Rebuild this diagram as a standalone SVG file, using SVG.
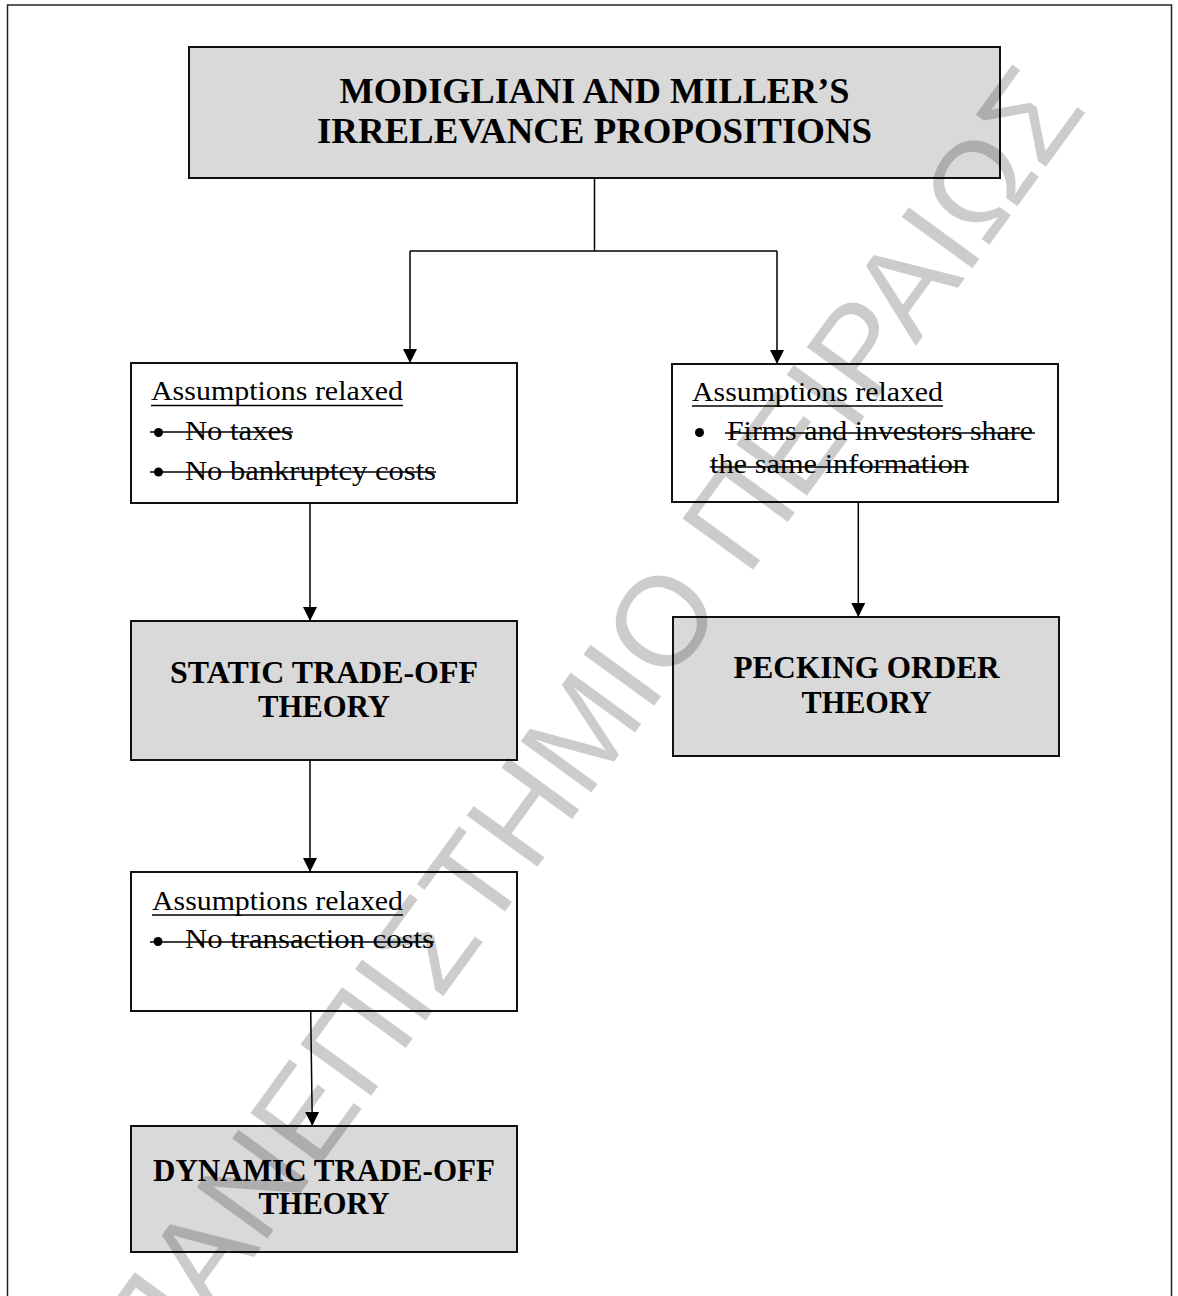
<svg xmlns="http://www.w3.org/2000/svg" width="1178" height="1296" viewBox="0 0 1178 1296">
<defs>
<style>
.box{stroke:#111;stroke-width:2;}
.theory{fill:#d9d9d9;}
.plain{fill:#fff;}
.title{font-family:"Liberation Serif","Times New Roman",serif;font-weight:bold;fill:#000;}
.body{font-family:"Liberation Serif","Times New Roman",serif;font-size:28px;fill:#000;}
.rule{stroke:#000;stroke-width:1.5;}
.conn{fill:none;stroke:#000;stroke-width:1.5;}
.wm{font-family:"Liberation Sans",Arial,sans-serif;font-size:127px;fill:#000;fill-opacity:0.2;}
</style>
<marker id="arrow" markerUnits="userSpaceOnUse" markerWidth="14" markerHeight="14" viewBox="0 0 14 14" refX="14" refY="7" orient="auto">
<path d="M0,0 L14,7 L0,14 z" fill="#000"/>
</marker>
</defs>
<rect width="1178" height="1296" fill="#fff"/>
<path d="M7.5,1300 V5 H1171.5 V1300" fill="none" stroke="#222" stroke-width="1.5"/>

<g id="mm">
<rect class="box theory" x="189" y="47" width="811" height="131"/>
<text class="title" font-size="35" x="594.5" y="103.3" text-anchor="middle" textLength="510" lengthAdjust="spacingAndGlyphs">MODIGLIANI AND MILLER’S</text>
<text class="title" font-size="35" x="594.5" y="143.3" text-anchor="middle" textLength="555" lengthAdjust="spacingAndGlyphs">IRRELEVANCE PROPOSITIONS</text>
</g>

<g id="assump1">
<rect class="box plain" x="131" y="363" width="386" height="140"/>
<text class="body" x="151" y="400" textLength="252" lengthAdjust="spacingAndGlyphs">Assumptions relaxed</text>
<line class="rule" x1="151" y1="405.5" x2="403" y2="405.5"/>
<circle cx="158.5" cy="432.5" r="4.5" fill="#000"/>
<text class="body" x="185" y="440" textLength="108" lengthAdjust="spacingAndGlyphs">No taxes</text>
<line class="rule" x1="150" y1="432" x2="293" y2="432"/>
<circle cx="158.5" cy="472" r="4.5" fill="#000"/>
<text class="body" x="185" y="480" textLength="251" lengthAdjust="spacingAndGlyphs">No bankruptcy costs</text>
<line class="rule" x1="150" y1="472" x2="436" y2="472"/>
</g>

<g id="assump2">
<rect class="box plain" x="672" y="364" width="386" height="138"/>
<text class="body" x="692" y="400.7" textLength="251" lengthAdjust="spacingAndGlyphs">Assumptions relaxed</text>
<line class="rule" x1="692" y1="406" x2="943" y2="406"/>
<circle cx="699.5" cy="432.5" r="4.5" fill="#000"/>
<text class="body" x="727" y="440" textLength="306" lengthAdjust="spacingAndGlyphs">Firms and investors share</text>
<line class="rule" x1="725" y1="433" x2="1035" y2="433"/>
<text class="body" x="710" y="473" textLength="258" lengthAdjust="spacingAndGlyphs">the same information</text>
<line class="rule" x1="710" y1="467" x2="969" y2="467"/>
</g>

<g id="static">
<rect class="box theory" x="131" y="621" width="386" height="139"/>
<text class="title" font-size="31" x="324" y="683.3" text-anchor="middle" textLength="308" lengthAdjust="spacingAndGlyphs">STATIC TRADE-OFF</text>
<text class="title" font-size="31" x="324" y="717.3" text-anchor="middle" textLength="132" lengthAdjust="spacingAndGlyphs">THEORY</text>
</g>

<g id="pecking">
<rect class="box theory" x="673" y="617" width="386" height="139"/>
<text class="title" font-size="31" x="866.5" y="678.3" text-anchor="middle" textLength="266" lengthAdjust="spacingAndGlyphs">PECKING ORDER</text>
<text class="title" font-size="31" x="866.5" y="713.3" text-anchor="middle" textLength="130" lengthAdjust="spacingAndGlyphs">THEORY</text>
</g>

<g id="assump3">
<rect class="box plain" x="131" y="872" width="386" height="139"/>
<text class="body" x="152" y="909.5" textLength="251" lengthAdjust="spacingAndGlyphs">Assumptions relaxed</text>
<line class="rule" x1="152" y1="915" x2="403" y2="915"/>
<circle cx="158" cy="941.5" r="4.5" fill="#000"/>
<text class="body" x="185" y="948.3" textLength="249" lengthAdjust="spacingAndGlyphs">No transaction costs</text>
<line class="rule" x1="150" y1="942" x2="434" y2="942"/>
</g>

<g id="dynamic">
<rect class="box theory" x="131" y="1126" width="386" height="126"/>
<text class="title" font-size="31" x="324" y="1180.5" text-anchor="middle" textLength="342" lengthAdjust="spacingAndGlyphs">DYNAMIC TRADE-OFF</text>
<text class="title" font-size="31" x="324" y="1213.5" text-anchor="middle" textLength="131" lengthAdjust="spacingAndGlyphs">THEORY</text>
</g>

<g id="connectors">
<path class="conn" d="M594.5,178 V251"/>
<path class="conn" d="M410,251 H777"/>
<path class="conn" d="M410,251 V363" marker-end="url(#arrow)"/>
<path class="conn" d="M777,251 V364" marker-end="url(#arrow)"/>
<path class="conn" d="M310,503 V621" marker-end="url(#arrow)"/>
<path class="conn" d="M858.3,502 V617" marker-end="url(#arrow)"/>
<path class="conn" d="M310,760 V872" marker-end="url(#arrow)"/>
<path class="conn" d="M310.7,1011 L312.3,1126" marker-end="url(#arrow)"/>
</g>

<text class="wm" x="622.8" y="749.2" text-anchor="middle" transform="rotate(-54 622.8 749.2)">ΠΑΝΕΠΙΣΤΗΜΙΟ ΠΕΙΡΑΙΩΣ</text>
</svg>
